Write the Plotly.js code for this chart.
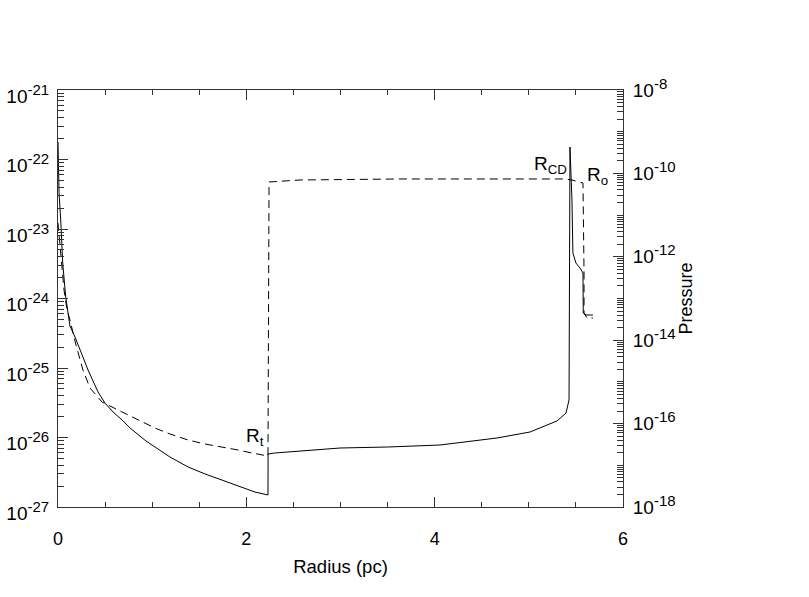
<!DOCTYPE html>
<html><head><meta charset="utf-8">
<script src="https://cdn.plot.ly/plotly-3.0.1.min.js"></script>
<style>html,body{margin:0;padding:0;background:#fff}#plot{width:809px;height:597px}</style>
</head><body><div id="plot"></div>
<script>
// Solid curve (left axis)
const radiusSolid = [0, 0.011, 0.029, 0.050, 0.082, 0.127, 0.181, 0.255, 0.319, 0.425, 0.499, 0.584, 0.680, 0.765, 0.850, 0.934, 1.030, 1.189, 1.380, 1.561, 1.742, 1.911, 2.092, 2.230,
  2.231, 2.300, 2.600, 2.995, 3.500, 4.057, 4.662, 5.012, 5.299, 5.395, 5.427, 5.437, 5.458, 5.468, 5.500, 5.543, 5.575, 5.578, 5.607, 5.681];
const density = [1.79e-22, 3.30e-23, 1.35e-23, 3.24e-24, 1.05e-24, 4.02e-25, 2.79e-25, 1.59e-25, 9.35e-26, 4.52e-26, 3.13e-26, 2.33e-26, 1.79e-26, 1.37e-26, 1.09e-26, 8.91e-27, 7.30e-27, 5.24e-27, 3.77e-27, 2.99e-27, 2.44e-27, 2.00e-27, 1.64e-27, 1.49e-27,
  5.79e-27, 5.98e-27, 6.40e-27, 7.06e-27, 7.30e-27, 7.80e-27, 9.84e-27, 1.20e-26, 1.73e-26, 2.25e-26, 3.47e-26, 1.51e-22, 2.61e-23, 4.52e-24, 3.24e-24, 2.75e-24, 2.33e-24, 6.18e-25, 5.79e-25, 5.79e-25];
// Dashed curve (right axis, pressure)
const radiusDashed = [0, 0.032, 0.064, 0.096, 0.127, 0.191, 0.265, 0.340, 0.467, 0.680, 0.850, 1.030, 1.189, 1.380, 1.561, 1.742, 1.911, 2.060, 2.230,
  2.241, 2.570, 3.632, 4.694, 5.384, 5.458, 5.575, 5.586, 5.586, 5.618, 5.681];
const pressure = [6.47e-12, 8.38e-13, 1.60e-13, 5.30e-14, 3.05e-14, 7.67e-15, 1.93e-15, 7.14e-16, 3.30e-16, 1.90e-16, 1.22e-16, 7.83e-17, 5.64e-17, 4.05e-17, 3.24e-17, 2.75e-17, 2.33e-17, 1.97e-17, 1.67e-17,
  6.22e-11, 6.95e-11, 7.35e-11, 7.35e-11, 7.35e-11, 6.95e-11, 5.89e-11, 4.33e-13, 4.49e-14, 3.40e-14, 3.40e-14];
const xTickVals = [0, 2, 4, 6];
const leftExps = [-21, -22, -23, -24, -25, -26, -27];
const rightExps = [-8, -10, -12, -14, -16, -18];
const labels = [
  {name: 'R', sub: 't', x: 2.09, y: -25.99},
  {name: 'R', sub: 'CD', x: 5.235, y: -22.08},
  {name: 'R', sub: 'o', x: 5.724, y: -22.24}
];

const font = 'Liberation Sans, Arial, Helvetica, sans-serif';
const supLabel = e => '10<sup><span style="font-size:15px">' + e + '</span></sup>';

const traces = [
  {x: radiusSolid, y: density, type: 'scatter', mode: 'lines', yaxis: 'y',
   line: {color: '#000', width: 1}, hoverinfo: 'skip'},
  {x: radiusDashed, y: pressure, type: 'scatter', mode: 'lines', yaxis: 'y2',
   line: {color: '#000', width: 1, dash: '8px,5px'}, hoverinfo: 'skip'}
];

const axisCommon = {showgrid: false, zeroline: false, showline: true, linecolor: '#333', linewidth: 1,
  ticks: 'inside', tickcolor: '#333', tickfont: {family: font, size: 19, color: '#000'}};

const layout = {
  width: 809, height: 597,
  margin: {l: 58, r: 186, t: 90, b: 90, pad: 0},
  paper_bgcolor: '#fff', plot_bgcolor: '#fff',
  showlegend: false,
  font: {family: font, color: '#000'},
  xaxis: Object.assign({}, axisCommon, {
    range: [0, 6], tickmode: 'array', tickvals: xTickVals, ticktext: xTickVals.map(String),
    tickfont: {family: font, size: 18, color: '#000'},
    ticklen: 10, mirror: 'ticks', ticklabelstandoff: 15,
    minor: {ticks: 'inside', ticklen: 5, dtick: 0.5, tickcolor: '#333'},
    title: {text: 'Radius (pc)', font: {family: font, size: 18.5, color: '#000'}, standoff: 12}
  }),
  yaxis: Object.assign({}, axisCommon, {
    type: 'log', range: [-27, -21], tickmode: 'array',
    tickvals: leftExps.map(e => Math.pow(10, e)), ticktext: leftExps.map(supLabel),
    ticklen: 10, ticklabelstandoff: 4, ticklabelshift: 6,
    minor: {ticks: 'inside', ticklen: 6, dtick: 'D1', tickcolor: '#333'}
  }),
  yaxis2: Object.assign({}, axisCommon, {
    type: 'log', range: [-18, -8], overlaying: 'y', side: 'right', tickmode: 'array',
    tickvals: rightExps.map(e => Math.pow(10, e)), ticktext: rightExps.map(supLabel),
    ticklen: 10, ticklabelstandoff: 5,
    minor: {ticks: 'inside', ticklen: 6, dtick: 'D1', tickcolor: '#333'},
    title: {text: 'Pressure', font: {family: font, size: 18, color: '#000'}, standoff: 4}
  }),
  annotations: labels.map(l => ({
    x: l.x, y: l.y, xref: 'x', yref: 'y', showarrow: false,
    text: l.name + '<sub>' + l.sub + '</sub>',
    font: {family: font, size: 19, color: '#000'}
  }))
};

Plotly.newPlot('plot', traces, layout, {staticPlot: true, displayModeBar: false});
</script>
</body></html>
